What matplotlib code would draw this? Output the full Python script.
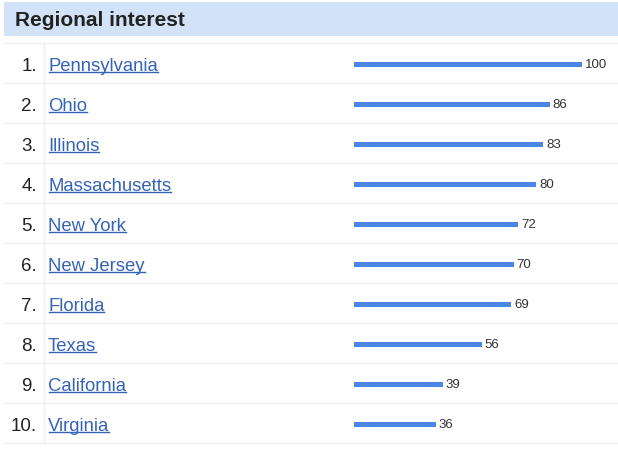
import matplotlib
matplotlib.use("Agg")
import matplotlib.pyplot as plt
from matplotlib.lines import Line2D
from matplotlib.patches import Rectangle

title = "Regional interest"
regions = ["Pennsylvania", "Ohio", "Illinois", "Massachusetts", "New York",
           "New Jersey", "Florida", "Texas", "California", "Virginia"]
values = [100, 86, 83, 80, 72, 70, 69, 56, 39, 36]
ranks = [f"{i}." for i in range(1, len(regions) + 1)]

W, H = 618, 452
fig = plt.figure(figsize=(W / 100, H / 100), dpi=100)
plt.rcParams['font.family'] = ['Liberation Sans', 'DejaVu Sans']

# background/decoration axes in pixel coords
bg = fig.add_axes([0, 0, 1, 1])
bg.set_xlim(0, W)
bg.set_ylim(H, 0)
bg.axis('off')

bg.add_patch(Rectangle((4, 3), W - 4, 34, facecolor='#d2e3f7', edgecolor='none'))
bg.text(15, 26.5, title, fontsize=15, fontweight='bold', color='#222222',
        va='baseline', ha='left')

row_top = 44
row_h = 40
n = len(regions)
line_col = '#efefef'
for k in range(n + 1):
    y = row_top + k * row_h
    bg.add_line(Line2D([4, W], [y, y], color=line_col, lw=1.0))
bg.add_line(Line2D([43.5, 43.5], [row_top, row_top + n * row_h], color=line_col, lw=1.0))

link_col = '#3563b8'
name_texts = []
for i, (r, name) in enumerate(zip(ranks, regions)):
    yc = row_top + row_h * (i + 0.5)
    base = yc + 7
    bg.text(37, base, r, fontsize=13.5, color='#222222', ha='right', va='baseline')
    t = bg.text(48, base, name, fontsize=13.3, color=link_col, ha='left', va='baseline')
    name_texts.append((t, base))

# bar axes
x0 = 354
bar_full = 228  # pixels for value 100
shift = 1.5  # px
ax = fig.add_axes([x0 / W, (H - (row_top + n * row_h) - shift) / H, (W - x0) / W, n * row_h / H])
ax.set_xlim(0, 100 * (W - x0) / bar_full)
ax.set_ylim(n - 0.5, -0.5)
ax.axis('off')
ypos = list(range(n))
ax.barh(ypos, values, height=0.13, color='#4a86e8', edgecolor='none')
for yy, v in zip(ypos, values):
    ax.text(v + 1.2, yy, str(v), fontsize=9.5, color='#333333', ha='left', va='center')

# underlines
fig.canvas.draw()
renderer = fig.canvas.get_renderer()
inv = bg.transData.inverted()
for t, base in name_texts:
    bb = t.get_window_extent(renderer)
    (xa, _), (xb, _) = inv.transform([(bb.x0, bb.y0), (bb.x1, bb.y1)])
    bg.add_line(Line2D([xa + 0.5, xb], [base + 1.5, base + 1.5], color=link_col, lw=1.0))

fig.savefig("out.png", dpi=100, facecolor='white')
